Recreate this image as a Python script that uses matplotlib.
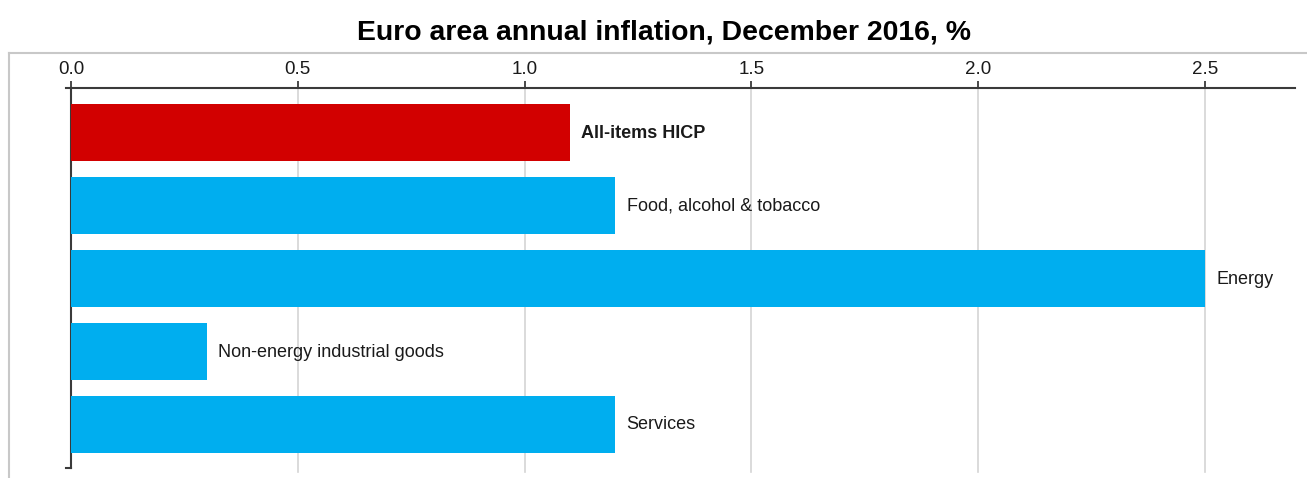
"""Euro area annual inflation, December 2016 — horizontal bar chart."""
import matplotlib
matplotlib.use("Agg")
import matplotlib.pyplot as plt
from matplotlib.lines import Line2D

categories = ["All-items HICP", "Food, alcohol & tobacco", "Energy",
              "Non-energy industrial goods", "Services"]
values = [1.1, 1.2, 2.5, 0.3, 1.2]
ticks = [0.0, 0.5, 1.0, 1.5, 2.0, 2.5]
tick_labels = ["0.0", "0.5", "1.0", "1.5", "2.0", "2.5"]

RED = "#D20000"
BLUE = "#00AEEF"
GRID = "#D4D4D4"
INK = "#1A1A1A"
AXIS = "#3A3A3A"

plt.rcParams["font.family"] = ["Liberation Sans", "DejaVu Sans"]

W, H = 1307, 478
fig = plt.figure(figsize=(W / 100, H / 100), dpi=100)

# axes box in pixels: x 71..1295, y 88..468 (from top)
left, right, top, bottom = 71, 1295, 88, 468
ax = fig.add_axes([left / W, 1 - bottom / H, (right - left) / W, (bottom - top) / H])

y = list(range(len(categories)))
colors = [RED] + [BLUE] * (len(categories) - 1)
ax.barh(y, values, height=0.78, color=colors, zorder=3)

for i, (c, v) in enumerate(zip(categories, values)):
    ax.text(v + 0.025, i + 0.01, c, va="center", ha="left", fontsize=13,
            color=INK, fontweight="bold" if i == 0 else "normal", zorder=4)

ax.set_xlim(0, (right - left) / 453.6)
ax.set_ylim(len(categories) - 1 + 0.6, -0.61)

ax.xaxis.tick_top()
ax.set_xticks(ticks)
ax.set_xticklabels(tick_labels, fontsize=13.5, color=INK)
ax.tick_params(axis="x", length=5, width=1.3, color=AXIS, pad=2)
ax.set_yticks([])

for s in ["right", "bottom"]:
    ax.spines[s].set_visible(False)
for s in ["top", "left"]:
    ax.spines[s].set_color(AXIS)
    ax.spines[s].set_linewidth(1.5)

for t in ticks[1:]:
    ax.axvline(t, ymin=-0.01, ymax=1, color=GRID, lw=1.2, zorder=1, clip_on=False)

# small outward ticks at both ends of the left spine
ax.plot([-0.012, 0], [-0.61, -0.61], color=AXIS, lw=1.5, clip_on=False)
ax.plot([-0.012, 0], [4.6, 4.6], color=AXIS, lw=1.5, clip_on=False)

# outer frame (top and left edges only)
fig.add_artist(Line2D([9 / W, 9 / W], [0, 1 - 53 / H], color="#C8C8C8", lw=1.5))
fig.add_artist(Line2D([9 / W, 1], [1 - 53 / H, 1 - 53 / H], color="#C8C8C8", lw=1.5))

fig.text(664 / W, 1 - 32 / H, "Euro area annual inflation, December 2016, %",
         ha="center", va="center", fontsize=20.4, fontweight="bold", color="black")

fig.savefig("out.png", dpi=100, facecolor="white")
